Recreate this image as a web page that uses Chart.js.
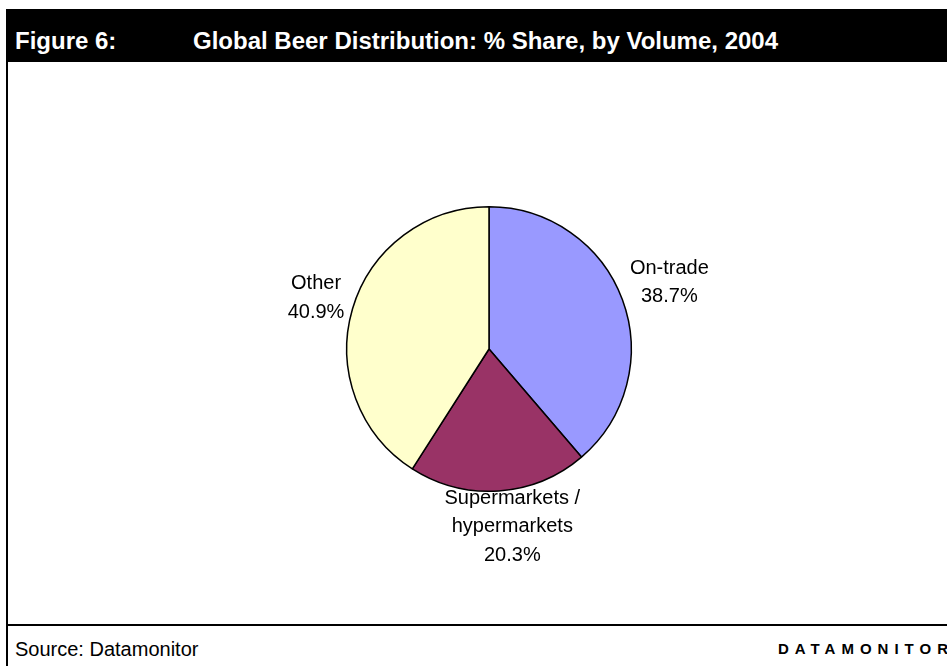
<!DOCTYPE html>
<html>
<head>
<meta charset="utf-8">
<script src="https://cdn.jsdelivr.net/npm/chart.js@4.4.1/dist/chart.umd.min.js"></script>
<style>
  html, body { margin: 0; padding: 0; background: #fff; }
  body { width: 947px; height: 666px; position: relative; overflow: hidden; font-family: "Liberation Sans", Arial, sans-serif; }
  #bar { position: absolute; left: 6px; top: 9px; width: 941px; height: 53px; background: #000; color: #fff; font-weight: bold; font-size: 24px; }
  #bar span { position: absolute; top: 0; line-height: 24px; top: 20px; white-space: nowrap; }
  #fig { left: 9px; }
  #ttl { left: 187px; }
  #leftLine { position: absolute; left: 6px; top: 62px; width: 2px; height: 604px; background: #000; }
  #botLine { position: absolute; left: 6px; top: 624px; width: 941px; height: 2px; background: #000; }
  #src { position: absolute; left: 15px; top: 638px; font-size: 20px; line-height: 22px; white-space: nowrap; }
  #brand { position: absolute; left: 778px; top: 640px; font-size: 15px; line-height: 17px; font-weight: bold; letter-spacing: 6px; white-space: nowrap; }
  #chart1 { position: absolute; left: 8px; top: 40px; }
</style>
</head>
<body>
<div id="bar"><span id="fig">Figure 6:</span><span id="ttl">Global Beer Distribution: % Share, by Volume, 2004</span></div>
<div id="leftLine"></div>
<div id="botLine"></div>
<canvas id="chart1" width="939" height="585"></canvas>
<div id="src">Source: Datamonitor</div>
<div id="brand">DATAMONITOR</div>

<script>
// data
const categories = ['On-trade', 'Supermarkets / hypermarkets', 'Other'];
const labelLines = [['On-trade'], ['Supermarkets /', 'hypermarkets'], ['Other']];
const shares = [38.7, 20.3, 40.9];
const sliceColors = ['#9999FF', '#993366', '#FFFFCC'];

// label placement (distance outside the rim, small sideways nudge)
const labelGap = [50, 36, 39];
const labelNudge = [0, 11, 1];
const lineH = 28.5;

// draws the "name / xx.x%" labels outside each slice
const sliceLabels = {
  id: 'sliceLabels',
  afterDatasetsDraw(chart) {
    const ctx = chart.ctx;
    const arcs = chart.getDatasetMeta(0).data;
    ctx.save();
    ctx.font = '20px "Liberation Sans", Arial, sans-serif';
    ctx.fillStyle = '#000';
    ctx.textAlign = 'center';
    ctx.textBaseline = 'middle';
    arcs.forEach((arc, i) => {
      const p = arc.getProps(['x', 'y', 'startAngle', 'endAngle', 'outerRadius'], true);
      const mid = (p.startAngle + p.endAngle) / 2;
      const d = p.outerRadius + labelGap[i];
      const lines = labelLines[i].concat([shares[i].toFixed(1) + '%']);
      const cx = p.x + Math.cos(mid) * d + labelNudge[i];
      const cy = p.y + Math.sin(mid) * d;
      const top = cy - (lines.length - 1) * lineH / 2;
      lines.forEach((t, j) => ctx.fillText(t, cx, top + j * lineH));
    });
    ctx.restore();
  }
};

const config = {
  type: 'pie',
  data: {
    labels: categories,
    datasets: [{
      data: shares,
      backgroundColor: sliceColors,
      borderColor: '#000',
      borderWidth: 1.5
    }]
  },
  options: {
    responsive: false,
    animation: false,
    devicePixelRatio: 1,
    layout: { padding: { left: 338, right: 315, top: 166, bottom: 133 } },
    plugins: {
      legend: { display: false },
      tooltip: { enabled: false }
    }
  },
  plugins: [sliceLabels]
};

const myChart = new Chart(document.getElementById('chart1'), config);
</script>
</body>
</html>
